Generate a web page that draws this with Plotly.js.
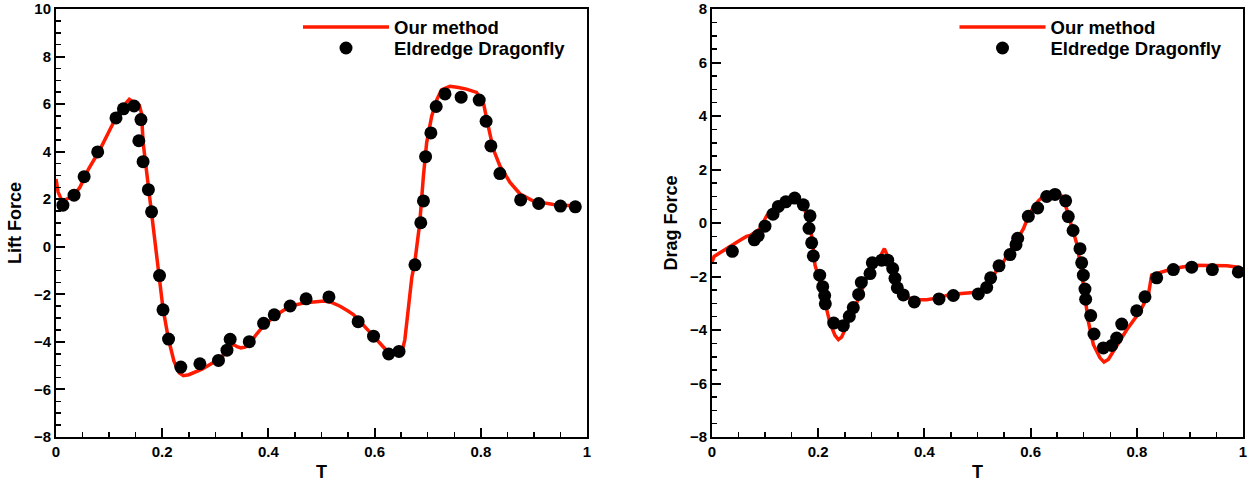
<!DOCTYPE html>
<html>
<head>
<meta charset="utf-8">
<script src="https://cdn.plot.ly/plotly-3.0.1.min.js"></script>
<style>html,body{margin:0;padding:0;background:#fff;} #chart{width:1252px;height:486px;}</style>
</head>
<body>
<div id="chart"></div>
<script>
// ---- Lift force: "Our method" (line) ----
const liftT = [0, 0.004, 0.011, 0.02, 0.035, 0.045, 0.061, 0.083, 0.1017, 0.1205, 0.13, 0.138, 0.145, 0.152, 0.157, 0.161, 0.164, 0.172, 0.180, 0.188, 0.195, 0.2015, 0.212, 0.222, 0.232, 0.24, 0.25, 0.26, 0.275, 0.29, 0.305, 0.318, 0.327, 0.334, 0.341, 0.348, 0.356, 0.365, 0.375, 0.39, 0.41, 0.43, 0.45, 0.47, 0.49, 0.505, 0.52, 0.535, 0.55, 0.56, 0.575, 0.59, 0.605, 0.62, 0.632, 0.643, 0.650, 0.654, 0.657, 0.660, 0.665, 0.670, 0.676, 0.685, 0.692, 0.698, 0.7075, 0.717, 0.726, 0.742, 0.758, 0.773, 0.792, 0.805, 0.814, 0.8236, 0.836, 0.855, 0.874, 0.899, 0.937, 0.974, 0.985];
const liftY = [2.85, 2.3, 1.95, 2.0, 2.2, 2.5, 3.26, 4.1, 4.93, 5.76, 6.0, 6.2, 6.1, 6.02, 5.95, 5.6, 4.4, 2.9, 1.45, 0.0, -1.2, -2.6, -3.9, -4.8, -5.3, -5.42, -5.38, -5.3, -5.15, -4.95, -4.75, -4.5, -4.2, -4.1, -4.2, -4.25, -4.22, -4.1, -3.75, -3.35, -2.95, -2.65, -2.45, -2.35, -2.3, -2.28, -2.35, -2.5, -2.7, -2.85, -3.2, -3.55, -3.9, -4.3, -4.45, -4.45, -4.4, -4.2, -3.9, -3.25, -2.3, -1.3, -0.6, 1.0, 2.99, 4.37, 5.49, 6.18, 6.6, 6.75, 6.7, 6.63, 6.49, 6.04, 5.07, 4.10, 3.40, 2.71, 2.22, 1.92, 1.78, 1.71, 1.70];

// ---- Lift force: "Eldredge Dragonfly" (points) ----
const liftDotT = [0.013, 0.034, 0.053, 0.0785, 0.113, 0.127, 0.147, 0.160, 0.156, 0.164, 0.174, 0.180, 0.195, 0.2015, 0.212, 0.235, 0.271, 0.306, 0.322, 0.328, 0.364, 0.391, 0.411, 0.441, 0.471, 0.514, 0.569, 0.598, 0.6265, 0.646, 0.676, 0.687, 0.692, 0.696, 0.706, 0.716, 0.7326, 0.763, 0.797, 0.810, 0.819, 0.836, 0.875, 0.909, 0.950, 0.978];
const liftDotY = [1.75, 2.17, 2.95, 3.99, 5.42, 5.80, 5.92, 5.35, 4.46, 3.58, 2.40, 1.47, -1.21, -2.65, -3.88, -5.06, -4.92, -4.78, -4.35, -3.89, -3.99, -3.22, -2.86, -2.49, -2.19, -2.11, -3.15, -3.76, -4.51, -4.40, -0.76, 1.01, 1.93, 3.79, 4.79, 5.90, 6.43, 6.29, 6.17, 5.28, 4.24, 3.08, 1.97, 1.82, 1.71, 1.68];

// ---- Drag force: "Our method" (line) ----
const dragT = [0, 0.004, 0.012, 0.025, 0.04, 0.055, 0.065, 0.0716, 0.09, 0.103, 0.122, 0.1406, 0.156, 0.164, 0.172, 0.178, 0.183, 0.1896, 0.194, 0.2034, 0.2128, 0.2222, 0.2316, 0.238, 0.244, 0.2536, 0.266, 0.2787, 0.2913, 0.3038, 0.3164, 0.3246, 0.330, 0.3384, 0.3478, 0.3603, 0.379, 0.4043, 0.429, 0.448, 0.467, 0.492, 0.511, 0.530, 0.5486, 0.5675, 0.58, 0.5863, 0.599, 0.6146, 0.630, 0.646, 0.6585, 0.668, 0.677, 0.687, 0.696, 0.7024, 0.7087, 0.7181, 0.7307, 0.7382, 0.7463, 0.762, 0.781, 0.806, 0.8217, 0.828, 0.8437, 0.8688, 0.9065, 0.944, 0.97, 0.995];
const dragY = [-1.46, -1.25, -1.15, -1.0, -0.81, -0.62, -0.5, -0.47, -0.22, 0.27, 0.70, 0.89, 1.01, 0.9, 0.64, 0.35, 0.03, -0.71, -1.58, -2.2, -3.0, -3.74, -4.2, -4.36, -4.27, -3.86, -3.31, -2.69, -2.07, -1.58, -1.27, -0.96, -1.21, -1.70, -2.32, -2.69, -2.87, -2.87, -2.79, -2.67, -2.63, -2.60, -2.44, -1.95, -1.46, -0.84, -0.45, -0.22, 0.40, 0.83, 1.11, 1.20, 1.01, 0.52, -0.1, -0.78, -1.83, -2.81, -3.68, -4.54, -5.04, -5.2, -5.1, -4.60, -3.99, -3.31, -2.69, -1.95, -1.85, -1.70, -1.58, -1.58, -1.6, -1.66];

// ---- Drag force: "Eldredge Dragonfly" (points) ----
const dragDotT = [0.0383, 0.0797, 0.087, 0.0998, 0.1149, 0.125, 0.139, 0.1557, 0.172, 0.1846, 0.1827, 0.1877, 0.1908, 0.2028, 0.2085, 0.2122, 0.2134, 0.2292, 0.2473, 0.2586, 0.2661, 0.2762, 0.2812, 0.2976, 0.3019, 0.3196, 0.3309, 0.3403, 0.3446, 0.349, 0.3603, 0.381, 0.4275, 0.4545, 0.5015, 0.5173, 0.5248, 0.5405, 0.5612, 0.5725, 0.5757, 0.5957, 0.6133, 0.6303, 0.646, 0.666, 0.671, 0.680, 0.693, 0.6962, 0.6993, 0.7024, 0.7037, 0.7132, 0.7194, 0.7369, 0.7527, 0.7621, 0.7716, 0.7998, 0.8154, 0.8375, 0.8688, 0.9034, 0.9423, 0.9912];
const dragDotY = [-1.06, -0.63, -0.47, -0.12, 0.33, 0.62, 0.79, 0.93, 0.68, 0.27, -0.2, -0.74, -1.23, -1.95, -2.38, -2.71, -3.02, -3.74, -3.84, -3.49, -3.16, -2.67, -2.22, -1.89, -1.49, -1.39, -1.39, -1.70, -2.07, -2.42, -2.69, -2.95, -2.84, -2.71, -2.65, -2.41, -2.05, -1.60, -1.18, -0.81, -0.57, 0.25, 0.56, 0.99, 1.07, 0.83, 0.24, -0.28, -0.96, -1.49, -1.95, -2.47, -2.85, -3.46, -4.15, -4.67, -4.58, -4.30, -3.78, -3.28, -2.76, -2.05, -1.74, -1.65, -1.74, -1.83];

const seriesNames = ["Our method", "Eldredge Dragonfly"];
const yTitles = ["Lift Force", "Drag Force"];
const xTitle = "T";

const FONT = "Liberation Sans, Arial, Helvetica, sans-serif";
const RED = "#ff1a00";

const traces = [
  {x: liftT, y: liftY, type: "scatter", mode: "lines", name: seriesNames[0],
   line: {color: RED, width: 3.5}, xaxis: "x", yaxis: "y", legend: "legend"},
  {x: liftDotT, y: liftDotY, type: "scatter", mode: "markers", name: seriesNames[1],
   marker: {color: "#000", size: 13}, xaxis: "x", yaxis: "y", legend: "legend3"},
  {x: dragT, y: dragY, type: "scatter", mode: "lines", name: seriesNames[0],
   line: {color: RED, width: 3.5}, xaxis: "x2", yaxis: "y2", legend: "legend2"},
  {x: dragDotT, y: dragDotY, type: "scatter", mode: "markers", name: seriesNames[1],
   marker: {color: "#000", size: 13}, xaxis: "x2", yaxis: "y2", legend: "legend4"}
];

const W = 1252, H = 486;
const tickFont = {family: FONT, size: 15, color: "#000", weight: "bold"};
const titleFont = {family: FONT, size: 18, color: "#000", weight: "bold"};
function xa(domain, anchor) {
  return {
    domain: domain, anchor: anchor, range: [0, 1], dtick: 0.2, tick0: 0,
    showline: true, mirror: true, linecolor: "#000", linewidth: 2,
    ticks: "inside", ticklen: 9, tickwidth: 2, tickcolor: "#000",
    minor: {ticks: "inside", dtick: 0.05, ticklen: 5, tickwidth: 1.5, tickcolor: "#000"},
    showgrid: false, zeroline: false, ticklabeloverflow: "allow",
    tickfont: tickFont, tickformat: "~g",
    title: {text: xTitle, font: titleFont, standoff: 6}
  };
}
function ya(domain, anchor, range, title) {
  return {
    domain: domain, anchor: anchor, range: range, dtick: 2,
    showline: true, mirror: true, linecolor: "#000", linewidth: 2,
    ticks: "inside", ticklen: 9, tickwidth: 2, tickcolor: "#000",
    minor: {ticks: "inside", dtick: 0.5, ticklen: 5, tickwidth: 1.5, tickcolor: "#000"},
    showgrid: false, zeroline: false, ticklabeloverflow: "allow",
    tickfont: tickFont,
    title: {text: title, font: titleFont, standoff: 8}
  };
}
function leg(xpx, toppx) {
  return {x: xpx / W, y: (H - toppx) / H, xanchor: "left", yanchor: "top",
    bgcolor: "rgba(0,0,0,0)", itemwidth: 86, tracegroupgap: 0,
    font: {family: FONT, size: 18.5, color: "#000", weight: "bold"}};
}
const yDom = [(H - 437) / H, (H - 9) / H];
const layout = {
  width: W, height: H,
  margin: {l: 0, r: 0, t: 0, b: 0},
  paper_bgcolor: "#fff", plot_bgcolor: "#fff",
  showlegend: true,
  xaxis: xa([56 / W, 587 / W], "y"),
  yaxis: ya(yDom, "x", [-8, 10], yTitles[0]),
  xaxis2: xa([712 / W, 1243 / W], "y2"),
  yaxis2: ya(yDom, "x2", [-8, 8], yTitles[1]),
  legend: leg(298, 8.5),
  legend3: leg(298, 29.5),
  legend2: leg(954.5, 8.5),
  legend4: leg(954.5, 29.5)
};
Plotly.newPlot("chart", traces, layout, {displayModeBar: false, staticPlot: true});
</script>
</body>
</html>
